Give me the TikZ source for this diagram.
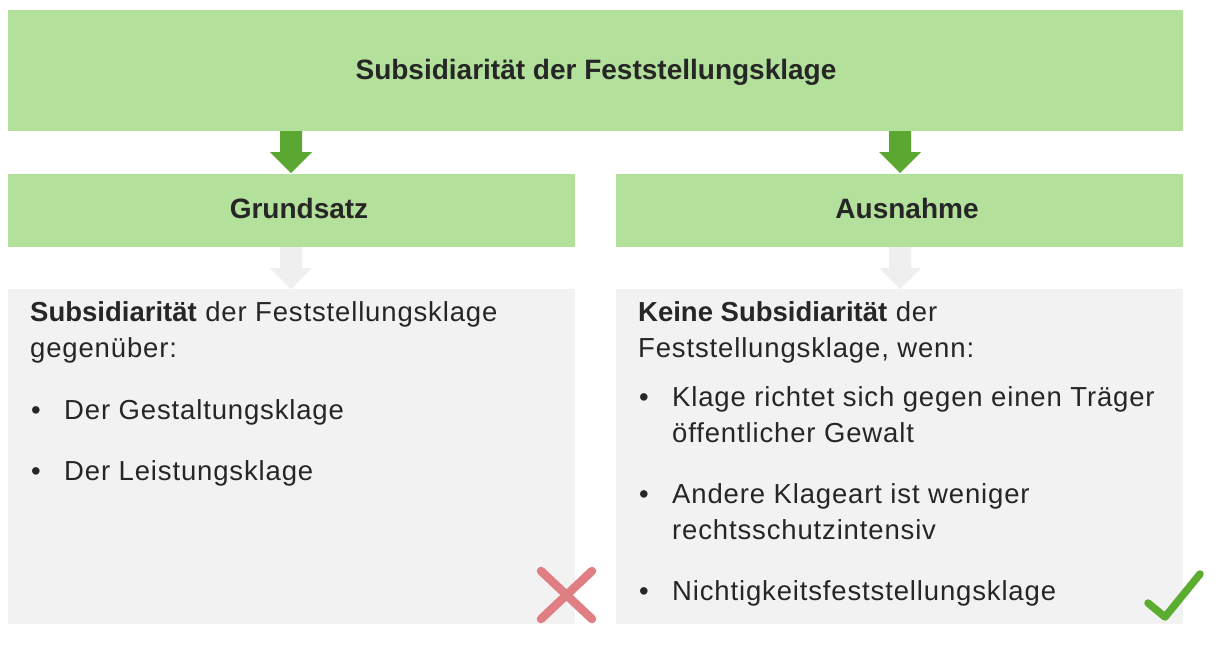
\documentclass[tikz,border=0pt]{standalone}
\usepackage{fontspec}
\setmainfont{Liberation Sans}
\newfontfamily\bdfont[LetterSpace=3.1,BoldFeatures={LetterSpace=0.0}]{Liberation Sans}
\definecolor{hdr}{HTML}{B3E09A}
\definecolor{body}{HTML}{F2F2F2}
\definecolor{darrow}{HTML}{5AA832}
\definecolor{larrow}{HTML}{EFEFEF}
\definecolor{txt}{HTML}{262626}
\definecolor{crossc}{HTML}{E07F83}
\definecolor{checkc}{HTML}{5AAD2F}
\begin{document}
\begin{tikzpicture}[x=1pt,y=-1pt,
  hdrbox/.style={fill=hdr,draw=none},
  bodybox/.style={fill=body,draw=none},
  ttl/.style={text=txt,font=\fontsize{28}{30}\selectfont\bfseries,inner sep=0pt},
  bt/.style={text=txt,font=\bdfont\fontsize{27.5}{30}\selectfont,inner sep=0pt,anchor=base west},
  bul/.style={text=txt,font=\bdfont\fontsize{27.5}{30}\selectfont,inner sep=0pt,anchor=base}
]
\useasboundingbox (0,0) rectangle (1219,649);
\fill[white] (0,0) rectangle (1219,649);
% boxes
\path[hdrbox] (8,10) rectangle (1183,131);
\path[hdrbox] (8,174) rectangle (575,247);
\path[hdrbox] (616,174) rectangle (1183,247);
\path[bodybox] (8,289) rectangle (575,624);
\path[bodybox] (616,289) rectangle (1183,624);
% arrows
\foreach \cx/\col/\ya/\yb/\yc in {291/darrow/131/152/173, 900/darrow/131/152/173, 291/larrow/247/268/289, 900/larrow/247/268/289}{
  \fill[\col] (\cx-11,\ya) -- (\cx+11,\ya) -- (\cx+11,\yb) -- (\cx+21,\yb) -- (\cx,\yc) -- (\cx-21,\yb) -- (\cx-11,\yb) -- cycle;
}
% headings
\node[ttl,anchor=base] (title) at (596,79.3) {Subsidiarität der Feststellungsklage};
\node[ttl,anchor=base] (grund) at (299,218.3) {Grundsatz};
\node[ttl,anchor=base] (aus) at (907,218.3) {Ausnahme};
% left body
\node[bt] (l1) at (30,321.5) {\textbf{Subsidiarität} der Feststellungsklage};
\node[bt] (l2) at (30,357.5) {gegenüber:};
\node[bul] (lb1) at (36,419.3) {•};
\node[bt] (l3) at (64,419.3) {Der Gestaltungsklage};
\node[bul] (lb2) at (36,480.7) {•};
\node[bt] (l4) at (64,480.7) {Der Leistungsklage};
% right body
\node[bt] (r1) at (638,321.5) {\textbf{Keine Subsidiarität} der};
\node[bt] (r2) at (638,357.5) {Feststellungsklage, wenn:};
\node[bul] (rb1) at (644,406) {•};
\node[bt] (r3) at (672,406) {Klage richtet sich gegen einen Träger};
\node[bt] (r4) at (672,442) {öffentlicher Gewalt};
\node[bul] (rb2) at (644,503) {•};
\node[bt] (r5) at (672,503) {Andere Klageart ist weniger};
\node[bt] (r6) at (672,539) {rechtsschutzintensiv};
\node[bul] (rb3) at (644,600) {•};
\node[bt] (r7) at (672,600) {Nichtigkeitsfeststellungsklage};
% cross
\draw[crossc,line width=8.5pt,line cap=round] (541,571) -- (592,619);
\draw[crossc,line width=8.5pt,line cap=round] (592,571) -- (541,619);
% check
\draw[checkc,line width=7.5pt,line cap=round,line join=round] (1148,603) -- (1165,617) -- (1200,574);
\end{tikzpicture}
\end{document}
